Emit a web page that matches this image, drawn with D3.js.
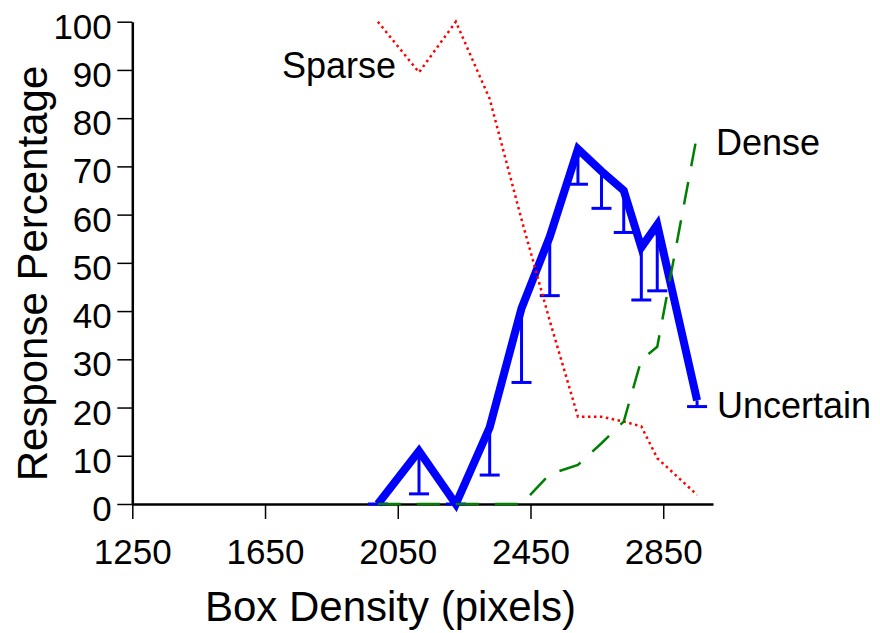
<!DOCTYPE html>
<html>
<head>
<meta charset="utf-8">
<script src="https://cdn.jsdelivr.net/npm/d3@7"></script>
<style>
  html, body { margin: 0; padding: 0; background: #fff; }
  svg { display: block; }
  text { font-family: "Liberation Sans", Arial, Helvetica, sans-serif; fill: #000; }
</style>
</head>
<body>
<svg id="chart" width="880" height="633"></svg>
<script>
// ---- data ----
const density      = [1990, 2114, 2225, 2327, 2423, 2508, 2593, 2664, 2731, 2784, 2832, 2952];
const uncertain    = [0, 11, 0, 15.9, 40.6, 55.4, 73.6, 69.0, 65.0, 53.2, 57.9, 21.5];
const uncertainLow = [0, 2.1, 0, 6.0, 25.2, 43.2, 66.3, 61.3, 56.3, 42.3, 44.2, 20.2];
const sparse       = [100, 89.5, 100, 84, 59, 38, 18.1, 18.1, 17.1, 16.1, 9.5, 1.9];
const dense        = [0, 0, 0, 0, 0, 6.2, 8.1, 12.6, 17.1, 29.9, 32.6, 76.5];
const xTicks = [1250, 1650, 2050, 2450, 2850];
const yTicks = [0, 10, 20, 30, 40, 50, 60, 70, 80, 90, 100];
const xTitle = "Box Density (pixels)";
const yTitle = "Response Percentage";
const seriesLabels = ["Sparse", "Dense", "Uncertain"];

// ---- layout ----
const svg = d3.select("#chart");
const x = d3.scaleLinear().domain([1250, 3000]).range([132.3, 713]);
const y = d3.scaleLinear().domain([0, 100]).range([504, 21.7]);
const FONT = "Liberation Sans, Arial, Helvetica, sans-serif";

// axes
const gx = svg.append("g").attr("transform", `translate(0,${y(0)})`)
  .call(d3.axisBottom(x).tickValues(xTicks).tickSize(15).tickSizeOuter(0).tickFormat(d3.format("d")));
gx.select(".domain").attr("stroke", "#000").attr("stroke-width", 2.5);
gx.selectAll(".tick line").attr("stroke", "#000").attr("stroke-width", 1.5);
gx.selectAll(".tick text").attr("y", 60).attr("dy", 0)
  .attr("font-size", 35).attr("font-family", FONT).attr("fill", "#000");

const gy = svg.append("g").attr("transform", `translate(${x(1250)},0)`)
  .call(d3.axisLeft(y).tickValues(yTicks).tickSize(15).tickSizeOuter(0).tickFormat(d3.format("d")));
gy.select(".domain").attr("stroke", "#000").attr("stroke-width", 2.5);
gy.selectAll(".tick line").attr("stroke", "#000").attr("stroke-width", 1.5);
gy.selectAll(".tick text").attr("x", -20.5).attr("dy", 0).attr("y", 16.5)
  .attr("font-size", 35).attr("font-family", FONT).attr("fill", "#000");

// axis titles
svg.append("text").attr("x", 390.5).attr("y", 621).attr("text-anchor", "middle")
  .attr("font-size", 42).text(xTitle);
svg.append("text").attr("transform", "translate(47,273.5) rotate(-90)")
  .attr("text-anchor", "middle").attr("font-size", 42).text(yTitle);

const pts = (vals) => density.map((d, i) => [d, vals[i]]);
const line = d3.line().x(d => x(d[0])).y(d => y(d[1]));

// Uncertain: thick blue line with one-sided error bars
const eb = svg.append("g").attr("stroke", "#0000ff").attr("stroke-width", 3).attr("fill", "none");
density.forEach((d, i) => {
  eb.append("line").attr("x1", x(d)).attr("x2", x(d)).attr("y1", y(uncertain[i])).attr("y2", y(uncertainLow[i]));
  eb.append("line").attr("x1", x(d) - 10).attr("x2", x(d) + 10).attr("y1", y(uncertainLow[i])).attr("y2", y(uncertainLow[i]));
});
svg.append("path").datum(pts(uncertain)).attr("d", line)
  .attr("fill", "none").attr("stroke", "#0000ff").attr("stroke-width", 8)
  .attr("stroke-linejoin", "miter").attr("stroke-miterlimit", 10);

// Sparse: red dotted
svg.append("path").datum(pts(sparse)).attr("d", line)
  .attr("fill", "none").attr("stroke", "#ff0000").attr("stroke-width", 2.5)
  .attr("stroke-dasharray", "2.5,3.5");

// Dense: green dashed
svg.append("path").datum(pts(dense)).attr("d", line)
  .attr("fill", "none").attr("stroke", "#008000").attr("stroke-width", 2.5)
  .attr("stroke-dasharray", "23,16");

// series labels
svg.append("text").attr("x", 282).attr("y", 78).attr("font-size", 36).text(seriesLabels[0]);
svg.append("text").attr("x", 716).attr("y", 155).attr("font-size", 36).text(seriesLabels[1]);
svg.append("text").attr("x", 717).attr("y", 418).attr("font-size", 36).text(seriesLabels[2]);
</script>
</body>
</html>
